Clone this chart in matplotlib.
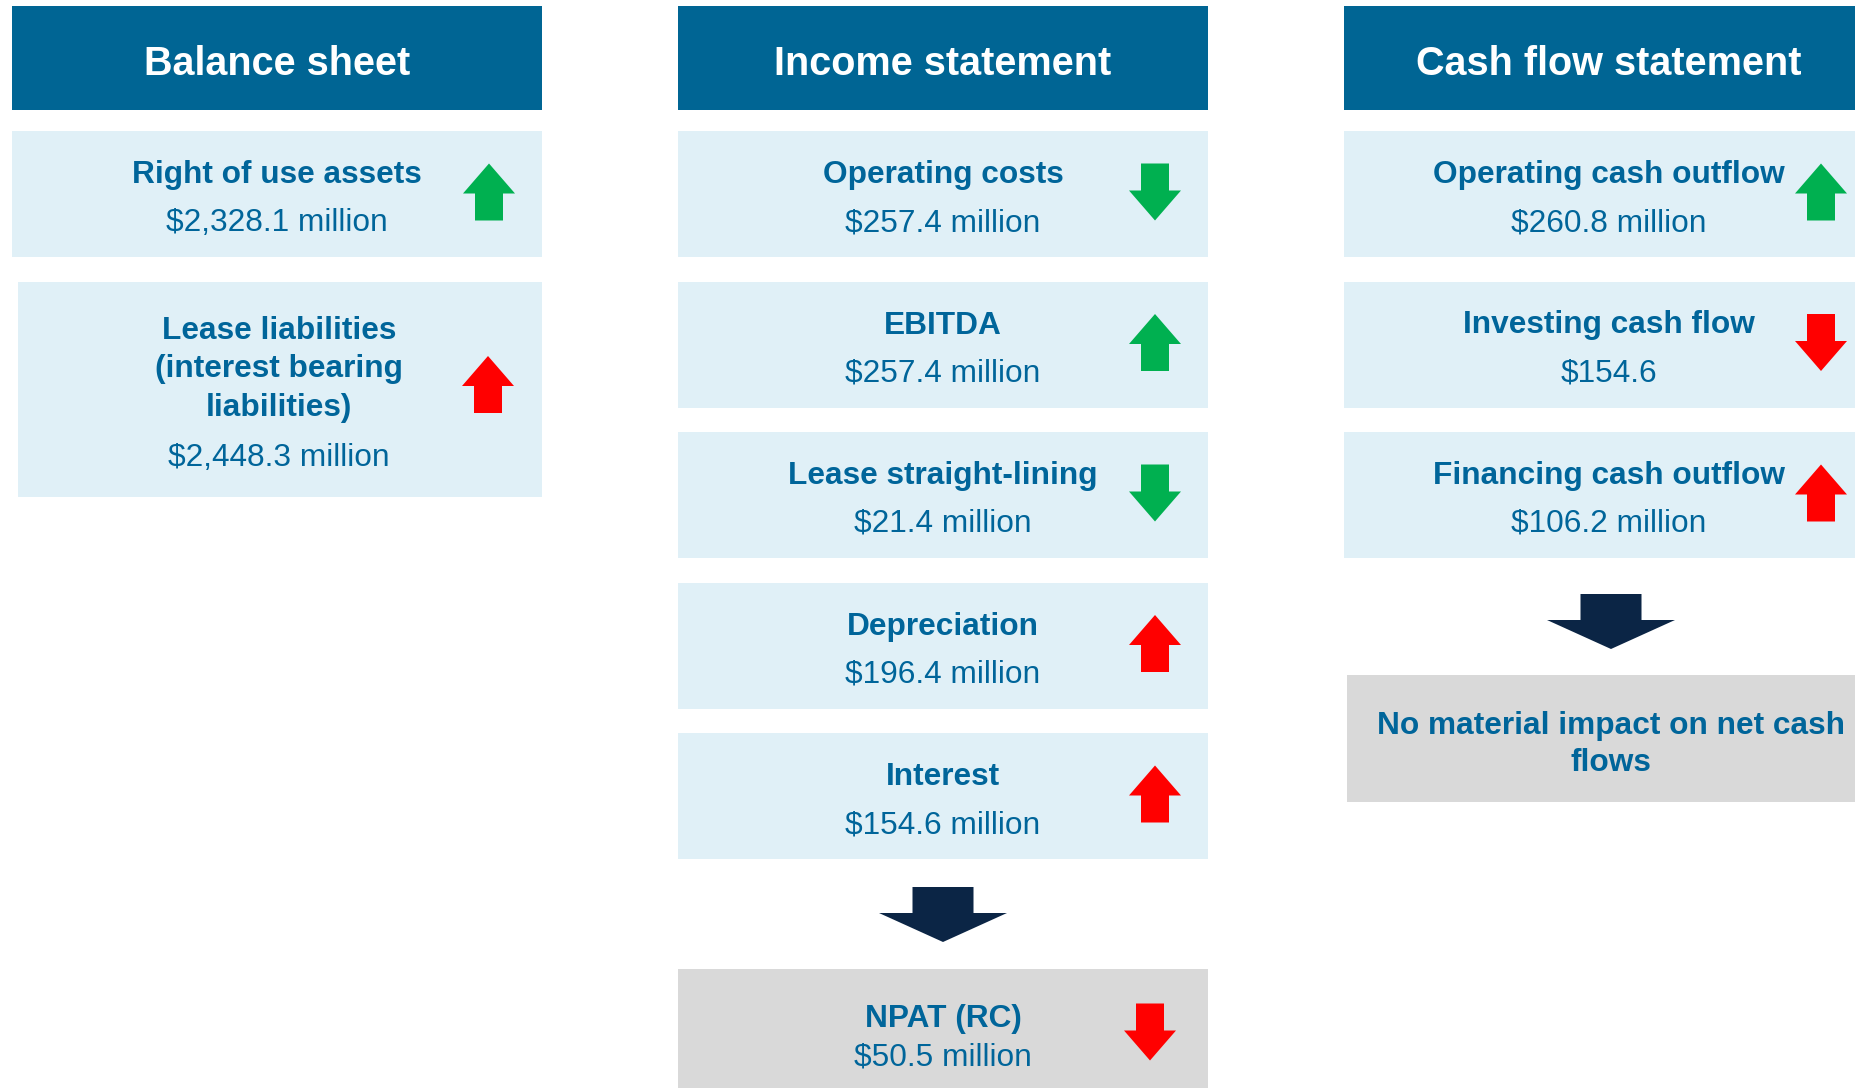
import matplotlib
matplotlib.use("Agg")
import matplotlib.pyplot as plt
from matplotlib.patches import Rectangle, Polygon

# ---------------- data ----------------
headers = ["Balance sheet", "Income statement", "Cash flow statement"]

balance_labels = ["Right of use assets", "Lease liabilities\n(interest bearing\nliabilities)"]
balance_values = ["$2,328.1 million", "$2,448.3 million"]
balance_dirs = ["up", "up"]
balance_tone = ["good", "bad"]

income_labels = ["Operating costs", "EBITDA", "Lease straight-lining", "Depreciation", "Interest"]
income_values = ["$257.4 million", "$257.4 million", "$21.4 million", "$196.4 million", "$154.6 million"]
income_dirs = ["down", "up", "down", "up", "up"]
income_tone = ["good", "good", "good", "bad", "bad"]

cash_labels = ["Operating cash outflow", "Investing cash flow", "Financing cash outflow"]
cash_values = ["$260.8 million", "$154.6", "$106.2 million"]
cash_dirs = ["up", "down", "up"]
cash_tone = ["good", "bad", "bad"]

npat_label = "NPAT (RC)"
npat_value = "$50.5 million"
npat_dir = "down"
npat_tone = "bad"

cash_result = "No material impact on net cash\nflows"

# ---------------- style ----------------
HEADER_BG = "#006594"
BOX_BG = "#e0f0f7"
GRAY_BG = "#d9d9d9"
TEXT = "#00659a"
DARK = "#0b2545"
TONE = {"good": "#00b050", "bad": "#ff0000"}
FONT = "Liberation Sans"
FS = 22.8
HFS = 28.5

W, H = 1855, 1088
fig = plt.figure(figsize=(W / 100, H / 100), dpi=100)
ax = fig.add_axes([0, 0, 1, 1])
ax.set_xlim(0, W)
ax.set_ylim(H, 0)
ax.axis("off")

col_x0 = [12, 678, 1344]
col_w = 530
head_top, head_h = 6, 104
row_top0, row_pitch, row_h = 131, 150.5, 126
arrow_off = 477


def small_arrow(cx, cy, direction, color):
    aw, ah, hh, sw = 52, 57, 30, 28
    t, b = cy - ah / 2, cy + ah / 2
    if direction == "up":
        pts = [(cx, t), (cx + aw / 2, t + hh), (cx + sw / 2, t + hh), (cx + sw / 2, b),
               (cx - sw / 2, b), (cx - sw / 2, t + hh), (cx - aw / 2, t + hh)]
    else:
        pts = [(cx, b), (cx + aw / 2, b - hh), (cx + sw / 2, b - hh), (cx + sw / 2, t),
               (cx - sw / 2, t), (cx - sw / 2, b - hh), (cx - aw / 2, b - hh)]
    ax.add_patch(Polygon(pts, closed=True, facecolor=color, edgecolor="none"))


def big_arrow(cx, top):
    aw, sw, sh, hh = 128, 61, 26, 29
    pts = [(cx - sw / 2, top), (cx + sw / 2, top), (cx + sw / 2, top + sh), (cx + aw / 2, top + sh),
           (cx, top + sh + hh), (cx - aw / 2, top + sh), (cx - sw / 2, top + sh)]
    ax.add_patch(Polygon(pts, closed=True, facecolor=DARK, edgecolor="none"))


def box(x0, top, w, h, label, value, direction, tone, bg=BOX_BG, title_dy=-19, value_gap=48,
        line_pitch=38.5, text_cx=None, arrow_cx=None, arrow_dy=-2):
    ax.add_patch(Rectangle((x0, top), w, h, facecolor=bg, edgecolor="none"))
    cy = top + h / 2
    cx = text_cx if text_cx is not None else x0 + w / 2
    lines = label.split("\n")
    n = len(lines)
    first = cy + title_dy - (n - 1) * line_pitch / 2
    for i, ln in enumerate(lines):
        ax.text(cx, first + i * line_pitch, ln, ha="center", va="center", fontsize=FS,
                fontweight="bold", color=TEXT, family=FONT)
    if value is not None:
        ax.text(cx, first + (n - 1) * line_pitch + value_gap, value, ha="center", va="center",
                fontsize=FS, color=TEXT, family=FONT)
    if direction is not None:
        acx = arrow_cx if arrow_cx is not None else x0 + arrow_off
        small_arrow(acx, cy + arrow_dy, direction, TONE[tone])


# headers
for x0, title in zip(col_x0, headers):
    ax.add_patch(Rectangle((x0, head_top), col_w, head_h, facecolor=HEADER_BG, edgecolor="none"))
    ax.text(x0 + col_w / 2, head_top + head_h / 2 + 6, title, ha="center", va="center",
            fontsize=HFS, fontweight="bold", color="white", family=FONT)

# balance sheet
box(col_x0[0], row_top0, col_w, row_h, balance_labels[0], balance_values[0], balance_dirs[0], balance_tone[0])
box(col_x0[0] + 6, 282, col_w - 6, 215, balance_labels[1], balance_values[1], balance_dirs[1],
    balance_tone[1], title_dy=-20, value_gap=50, text_cx=col_x0[0] + col_w / 2 + 2,
    arrow_cx=col_x0[0] + arrow_off - 1, arrow_dy=-5)

# income statement
for i, (lab, val, d, t) in enumerate(zip(income_labels, income_values, income_dirs, income_tone)):
    box(col_x0[1], row_top0 + i * row_pitch, col_w, row_h, lab, val, d, t)
big_arrow(col_x0[1] + col_w / 2, 887)
box(col_x0[1], 969, col_w, row_h, npat_label, npat_value, None, None, bg=GRAY_BG, title_dy=-13,
    value_gap=38)
small_arrow(col_x0[1] + arrow_off - 5, 1032, npat_dir, TONE[npat_tone])

# cash flow statement
for i, (lab, val, d, t) in enumerate(zip(cash_labels, cash_values, cash_dirs, cash_tone)):
    box(col_x0[2], row_top0 + i * row_pitch, col_w, row_h, lab, val, d, t)
big_arrow(col_x0[2] + col_w / 2 + 2, 594)
box(col_x0[2] + 3, 675, col_w, 127, cash_result, None, None, None, bg=GRAY_BG, line_pitch=37,
    title_dy=6, text_cx=col_x0[2] + col_w / 2 + 2)

fig.savefig("out.png", dpi=100)
